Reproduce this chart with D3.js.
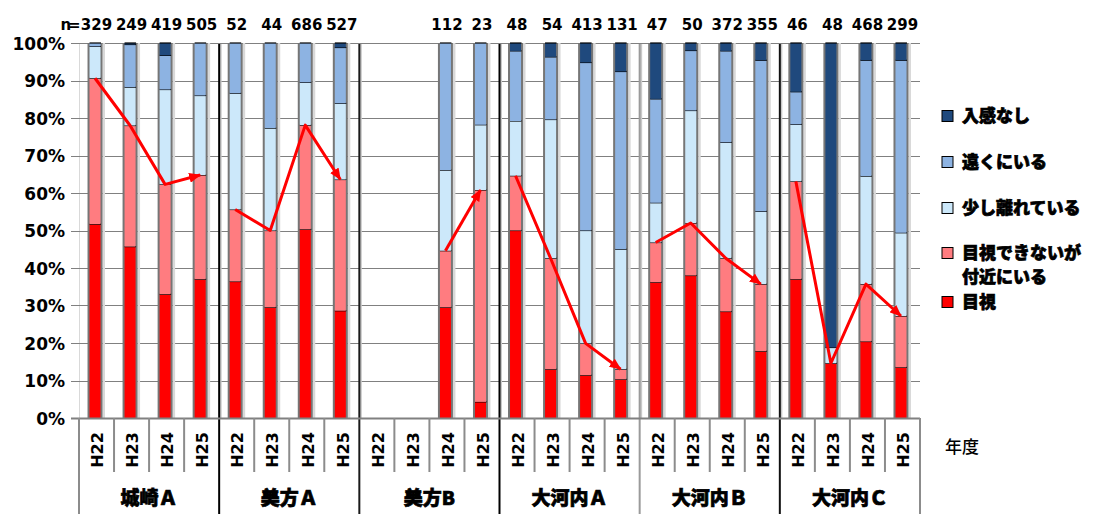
<!DOCTYPE html>
<html lang="ja">
<head>
<meta charset="utf-8">
<script src="https://cdn.jsdelivr.net/npm/d3@7"></script>
<style>
  html, body { margin: 0; padding: 0; background: #fff; }
  svg { display: block; }
  .num { font-family: "DejaVu Sans", "Liberation Sans", Arial, sans-serif; font-weight: bold; }
  .jp { font-family: "Noto Sans CJK JP", "Noto Sans", sans-serif; font-weight: 900;
        stroke: #000; stroke-width: 0.7px; paint-order: stroke; }
</style>
</head>
<body>
<svg id="chart" width="1099" height="514"></svg>
<script>
// Survey areas and survey years (平成22〜25年度)
const groups = ["城崎Ａ", "美方Ａ", "美方B", "大河内Ａ", "大河内Ｂ", "大河内Ｃ"];
const years = ["H22", "H23", "H24", "H25"];

// Number of responses per area/year (null = not surveyed)
const sampleSizes = [329, 249, 419, 505, 52, 44, 686, 527, null, null, 112, 23,
                     48, 54, 413, 131, 47, 50, 372, 355, 46, 48, 468, 299];

// Share of responses (%) per category, stacked bottom to top
const mokushi  = [51.7, 45.7, 33.0, 37.0, 36.4, 29.5, 50.3, 28.6, null, null, 29.5, 4.3,
                  50.0, 13.0, 11.4, 10.3, 36.2, 38.0, 28.4, 17.8, 37.0, 14.6, 20.4, 13.5];
const fukin    = [38.9, 32.3, 29.3, 27.8, 19.2, 20.5, 27.8, 35.0, null, null, 15.1, 56.5,
                  14.6, 29.6, 8.5, 2.7, 10.6, 14.0, 14.2, 17.9, 26.1, 0, 15.3, 13.7];
const sukoshi  = [8.5, 10.2, 25.3, 21.2, 31.0, 27.3, 11.4, 20.3, null, null, 21.5, 17.4,
                  14.6, 37.0, 30.1, 32.0, 10.6, 30.0, 30.9, 19.4, 15.2, 4.2, 28.8, 22.2];
const tooku    = [0.9, 11.4, 9.1, 14.0, 13.4, 22.7, 10.5, 14.9, null, null, 33.9, 21.8,
                  18.7, 16.7, 44.8, 47.4, 27.7, 16.0, 24.4, 40.3, 8.7, 0, 30.9, 46.0];
const nyukan   = [0, 0.4, 3.3, 0, 0, 0, 0, 1.2, null, null, 0, 0,
                  2.1, 3.7, 5.2, 7.6, 14.9, 2.0, 2.1, 4.6, 13.0, 81.2, 4.6, 4.6];

const seriesNames = ["目視", "目視できないが付近にいる", "少し離れている", "遠くにいる", "入感なし"];
const seriesValues = [mokushi, fukin, sukoshi, tooku, nyukan];
const seriesColors = ["#FF0000", "#FF7C80", "#CCE8FA", "#8DB3E2", "#1F497D"];
const yTicks = [0, 10, 20, 30, 40, 50, 60, 70, 80, 90, 100];

// ---- layout ----
const svg = d3.select("#chart");
const plot = { left: 79, right: 920, top: 43, bottom: 418 };
const axisBottom = 514;

const categories = [];
groups.forEach((g, gi) => years.forEach((yr, yi) => categories.push({ group: g, gi, year: yr, idx: gi * 4 + yi })));

const x = d3.scaleBand().domain(categories.map(c => c.idx)).range([plot.left, plot.right]).padding(0);
const y = d3.scaleLinear().domain([0, 100]).range([plot.bottom, plot.top]);
const bw = x.bandwidth();
const barW = 15, edge = 2;
const barX = i => x(i) + bw / 2 - 1.5 - barW / 2;

// ---- gridlines and value axis ----
const yAxis = d3.axisLeft(y).tickValues(yTicks).tickFormat(d => d + "%").tickSize(0).tickPadding(0);
const yAxisG = svg.append("g").attr("transform", `translate(${plot.left},0)`).call(yAxis);
yAxisG.select(".domain").attr("stroke", "#d9d9d9").attr("stroke-width", 1);
yAxisG.selectAll(".tick text")
  .attr("class", "num").attr("x", -14).attr("dy", "0.36em")
  .attr("font-size", 17).attr("fill", "#000");

svg.append("g").selectAll("line").data(yTicks.filter(t => t > 0)).join("line")
  .attr("x1", plot.left - 8).attr("x2", plot.right)
  .attr("y1", d => Math.round(y(d)) + 0.5).attr("y2", d => Math.round(y(d)) + 0.5)
  .attr("stroke", "#808080").attr("stroke-width", 1);

// ---- stacked bars ----
const stacked = categories.map(c => {
  let acc = 0;
  const segs = seriesValues.map((vals, si) => {
    const v = vals[c.idx];
    const s = { si, y0: acc, y1: acc + (v || 0), v };
    acc += (v || 0);
    return s;
  });
  return { c, segs, empty: mokushi[c.idx] == null };
});

const barG = svg.append("g");
stacked.filter(d => !d.empty).forEach(d => {
  const bx = barX(d.c.idx);
  const top = d.segs[d.segs.length - 1].y1;
  // right-side soft shading
  barG.append("rect").attr("x", bx + barW).attr("y", y(top)).attr("width", 2.5)
    .attr("height", y(0) - y(top)).attr("fill", "#d9d9d9");
  // grey frame of the bar column
  barG.append("rect").attr("x", bx).attr("y", y(top)).attr("width", barW)
    .attr("height", y(0) - y(top)).attr("fill", "#767676");
  d.segs.filter(s => s.v > 0).forEach(s => {
    barG.append("rect")
      .attr("x", bx + edge).attr("width", barW - 2 * edge)
      .attr("y", y(s.y1)).attr("height", y(s.y0) - y(s.y1))
      .attr("fill", seriesColors[s.si]);
    barG.append("line")
      .attr("x1", bx + edge).attr("x2", bx + barW - edge + 0.5)
      .attr("y1", y(s.y1)).attr("y2", y(s.y1))
      .attr("stroke", "#000").attr("stroke-width", 1.2);
  });
});

// ---- group separators ----
const sepColors = ["#000", "#1a1a1a", "#000", "#9a9a9a", "#111"];
const sepG = svg.append("g");
d3.range(1, groups.length).forEach((g, k) => {
  const sx = x(g * 4);
  sepG.append("line").attr("x1", sx + 1.5).attr("x2", sx + 1.5).attr("y1", plot.top + 1).attr("y2", plot.bottom)
    .attr("stroke", "#c8c8c8").attr("stroke-width", 2);
  sepG.append("line").attr("x1", sx).attr("x2", sx).attr("y1", plot.top + 1).attr("y2", axisBottom)
    .attr("stroke", sepColors[k]).attr("stroke-width", 2);
});

// ---- category axis (two levels) ----
const catG = svg.append("g");
catG.append("line").attr("x1", plot.left - 8).attr("x2", plot.right).attr("y1", plot.bottom + 0.5).attr("y2", plot.bottom + 0.5)
  .attr("stroke", "#808080").attr("stroke-width", 2);
categories.forEach(c => {
  if (c.idx % 4 !== 0) {
    catG.append("line").attr("x1", x(c.idx)).attr("x2", x(c.idx)).attr("y1", plot.bottom).attr("y2", 472)
      .attr("stroke", "#8c8c8c").attr("stroke-width", 2);
  }
});
[plot.left, plot.right].forEach(px => {
  catG.append("line").attr("x1", px).attr("x2", px).attr("y1", plot.bottom).attr("y2", axisBottom)
    .attr("stroke", "#8c8c8c").attr("stroke-width", 2);
});
catG.selectAll("text.year").data(categories).join("text")
  .attr("class", "num")
  .attr("transform", d => `translate(${x(d.idx) + bw / 2 + 1},450) rotate(-90)`)
  .attr("text-anchor", "middle").attr("dy", "0.36em")
  .attr("font-size", 16).text(d => d.year);
catG.selectAll("text.group").data(groups).join("text")
  .attr("class", "jp")
  .attr("x", (d, i) => x(i * 4) + bw * 2).attr("y", 498)
  .attr("text-anchor", "middle").attr("dy", "0.36em")
  .attr("font-size", 19).text(d => d);

svg.append("text").attr("x", 945).attr("y", 447).attr("dy", "0.36em")
  .attr("font-family", "'Noto Sans CJK JP', sans-serif").attr("font-weight", 500)
  .attr("font-size", 17).text("年度");

// ---- n labels ----
const nG = svg.append("g");
categories.forEach(c => {
  const n = sampleSizes[c.idx];
  if (n == null) return;
  nG.append("text").attr("class", "num").attr("x", x(c.idx) + bw / 2).attr("y", 30)
    .attr("text-anchor", "middle").attr("font-size", 15).text(n);
});
nG.append("text").attr("class", "num").attr("x", x(0) + bw / 2 - 16).attr("y", 30)
  .attr("text-anchor", "end").attr("font-size", 15).attr("textLength", 20).text("n=");

// ---- trend of visible + nearby share, one arrow per area ----
const defs = svg.append("defs");
defs.append("marker").attr("id", "arrow").attr("viewBox", "0 0 12 10")
  .attr("refX", 11).attr("refY", 5).attr("markerWidth", 12).attr("markerHeight", 10)
  .attr("markerUnits", "userSpaceOnUse").attr("orient", "auto")
  .append("path").attr("d", "M0,0 L12,5 L0,10 z").attr("fill", "#FF0000");

const line = d3.line().x(d => x(d.idx) + bw / 2 - 1.5).y(d => y(d.v));
groups.forEach((g, gi) => {
  const pts = years.map((yr, yi) => gi * 4 + yi)
    .filter(i => mokushi[i] != null)
    .map(i => ({ idx: i, v: mokushi[i] + fukin[i] }));
  svg.append("path").datum(pts).attr("d", line)
    .attr("fill", "none").attr("stroke", "#FF0000").attr("stroke-width", 3)
    .attr("stroke-linejoin", "round").attr("marker-end", "url(#arrow)");
});

// ---- legend ----
const legendRows = [
  { si: 4, lines: ["入感なし"], y: 116 },
  { si: 3, lines: ["遠くにいる"], y: 162 },
  { si: 2, lines: ["少し離れている"], y: 208 },
  { si: 1, lines: ["目視できないが", "付近にいる"], y: 253 },
  { si: 0, lines: ["目視"], y: 302 }
];
const lg = svg.append("g");
legendRows.forEach(r => {
  lg.append("rect").attr("x", 942).attr("y", r.y - 5.5).attr("width", 11).attr("height", 11)
    .attr("fill", seriesColors[r.si]).attr("stroke", "#000").attr("stroke-width", 1);
  r.lines.forEach((t, li) => {
    lg.append("text").attr("class", "jp").attr("x", 962).attr("y", r.y + li * 24)
      .attr("dy", "0.36em").attr("font-size", 17).text(t);
  });
});
</script>
</body>
</html>
